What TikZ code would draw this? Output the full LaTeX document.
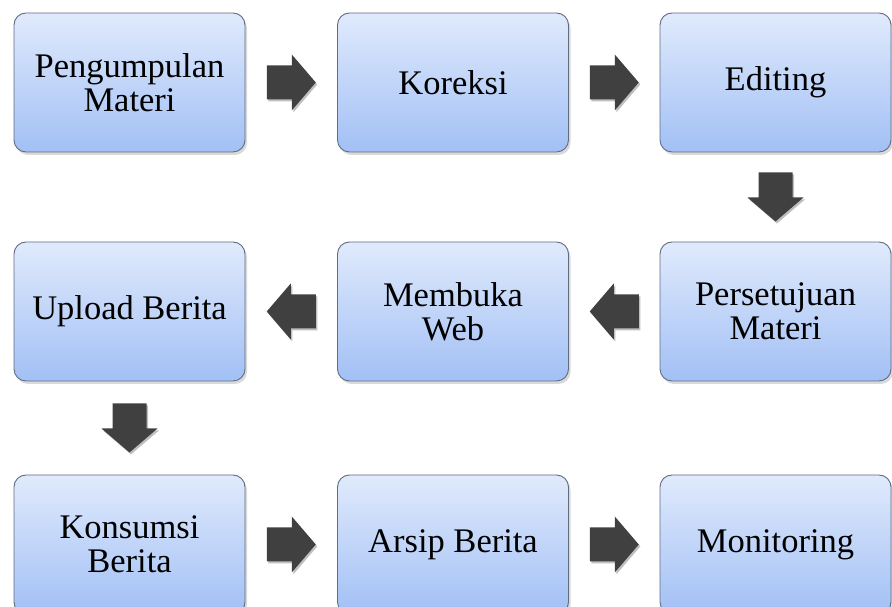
\documentclass[tikz,border=0pt]{standalone}
\usepackage{fontspec}
\setmainfont{Liberation Serif}
\usetikzlibrary{shadows,calc}

\definecolor{boxtop}{RGB}{224,234,252}
\definecolor{boxbottom}{RGB}{162,192,245}
\definecolor{boxline}{RGB}{96,108,128}
\definecolor{arrowfill}{RGB}{64,64,64}

\tikzset{
  stepbox/.style={rectangle, rounded corners=12pt, draw=boxline, line width=0.9pt,
    top color=boxtop, bottom color=boxbottom,
    minimum width=231pt, minimum height=139pt, align=center,
    font=\fontsize{34.5}{34}\selectfont,
    drop shadow={shadow xshift=2pt, shadow yshift=-3pt, opacity=0.3}},
  pics/flowarrow/.style={code={
    \fill[black, opacity=0.25, xshift=1.5pt, yshift=-2pt, rotate=#1]
      (-24.5,-17) -- (0.5,-17) -- (0.5,-28) -- (24.5,0) -- (0.5,28) -- (0.5,17) -- (-24.5,17) -- cycle;
    \fill[arrowfill, rotate=#1]
      (-24.5,-17) -- (0.5,-17) -- (0.5,-28) -- (24.5,0) -- (0.5,28) -- (0.5,17) -- (-24.5,17) -- cycle;
  }}
}

\begin{document}
\begin{tikzpicture}[x=1pt,y=1pt]
  \useasboundingbox (0,0) rectangle (892,607);

  % first row
  \node[stepbox] (kumpul) at (129.5,524.5) {Pengumpulan\\Materi};
  \node[stepbox] (koreksi) at (453,524.5) {Koreksi};
  \node[stepbox] (edit) at (775.5,524.5) {Editing};

  % second row, right to left
  \node[stepbox] (setuju) at (775.5,295.5) {Persetujuan\\Materi};
  \node[stepbox] (web) at (453,295.5) {Membuka\\Web};
  \node[stepbox] (upload) at (129.5,295.5) {Upload Berita};

  % third row
  \node[stepbox] (konsumsi) at (129.5,62.5) {Konsumsi\\Berita};
  \node[stepbox] (arsip) at (453,62.5) {Arsip Berita};
  \node[stepbox] (monitor) at (775.5,62.5) {Monitoring};

  % block arrows between the steps
  \pic at ($(kumpul.east)!0.5!(koreksi.west)$) {flowarrow=0};
  \pic at ($(koreksi.east)!0.5!(edit.west)$) {flowarrow=0};
  \pic at ($(edit.south)!0.5!(setuju.north)$) {flowarrow=-90};
  \pic at ($(setuju.west)!0.5!(web.east)$) {flowarrow=180};
  \pic at ($(web.west)!0.5!(upload.east)$) {flowarrow=180};
  \pic at ($(upload.south)!0.5!(konsumsi.north)$) {flowarrow=-90};
  \pic at ($(konsumsi.east)!0.5!(arsip.west)$) {flowarrow=0};
  \pic at ($(arsip.east)!0.5!(monitor.west)$) {flowarrow=0};
\end{tikzpicture}
\end{document}
